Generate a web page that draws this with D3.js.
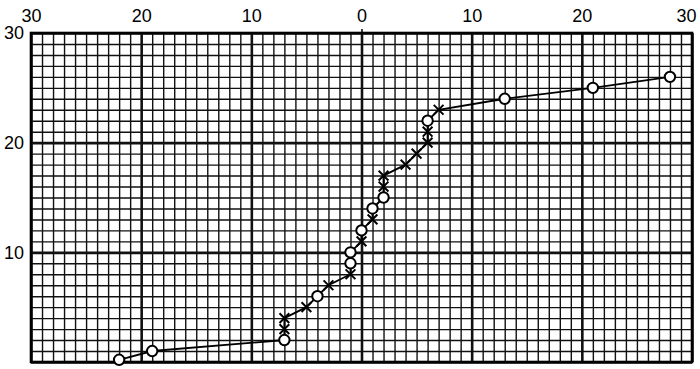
<!DOCTYPE html>
<html>
<head>
<meta charset="utf-8">
<script src="https://cdn.jsdelivr.net/npm/d3@7"></script>
<style>
  body { margin: 0; background: #fff; }
  text { font-family: "Liberation Sans Narrow", "Liberation Sans", sans-serif; }
</style>
</head>
<body>
<div id="canvas"></div>
<script>
// depth steps (y) and offsets (x)
let depth  = [0.2, 1, 2, 3, 4, 5, 6, 7, 8, 9, 10, 11, 12, 13, 14, 15, 16, 17, 18, 19, 20, 21, 22, 23, 24, 25, 26];
let offset = [-22, -19, -7, -7, -7, -5, -4, -3, -1, -1, -1, 0, 0, 1, 1, 2, 2, 2, 4, 5, 6, 6, 6, 7, 13, 21, 28];
let marker = ["o", "o", "o", "x", "x", "x", "o", "x", "x", "o", "o", "x", "o", "x", "o", "o", "x", "x", "x", "x", "x", "x", "o", "x", "o", "o", "o"];

let topTicks  = [-30, -20, -10, 0, 10, 20, 30];
let leftTicks = [10, 20, 30];

let data = depth.map((d, i) => ({y: d, x: offset[i], m: marker[i]}));

let W = 700, H = 369;
let mLeft = 31, mRight = 692, mTop = 33, mBottom = 362;

let svg = d3.select("#canvas")
            .append("svg")
              .attr("width", W)
              .attr("height", H);

let x = d3.scaleLinear().domain([-30, 30]).range([mLeft, mRight]);
let y = d3.scaleLinear().domain([0, 30]).range([mBottom, mTop]);

// graph paper - minor lines every unit, heavy lines every 10
let gx = svg.append("g")
    .attr("transform", `translate(0,${mBottom})`)
    .call(d3.axisBottom(x).tickValues(d3.range(-30, 31)).tickSize(-(mBottom - mTop)).tickFormat(""));
gx.select(".domain").remove();
gx.selectAll("line")
    .attr("stroke", "#111")
    .attr("stroke-width", d => d % 10 === 0 ? 2.6 : 1.4);

let gy = svg.append("g")
    .attr("transform", `translate(${mLeft},0)`)
    .call(d3.axisLeft(y).tickValues(d3.range(0, 31)).tickSize(-(mRight - mLeft)).tickFormat(""));
gy.select(".domain").remove();
gy.selectAll("line")
    .attr("stroke", "#111")
    .attr("stroke-width", d => d % 10 === 0 ? 2.6 : 1.4);

svg.append("rect")
    .attr("x", mLeft)
    .attr("y", mTop)
    .attr("width", mRight - mLeft)
    .attr("height", mBottom - mTop)
    .attr("fill", "none")
    .attr("stroke", "#000")
    .attr("stroke-width", 2.6);

// top labels
let at = svg.append("g")
    .attr("transform", `translate(0,${mTop})`)
    .call(d3.axisTop(x).tickValues(topTicks).tickSize(0).tickPadding(11).tickFormat(d => Math.abs(d)));
at.select(".domain").remove();
at.selectAll("text")
    .attr("font-size", 18)
    .attr("fill", "#000")
    .attr("font-family", "Liberation Sans Narrow, sans-serif");
at.selectAll(".tick").filter(d => d === 30).select("text").attr("dx", -6);
// small tick above the centre line
at.selectAll(".tick").filter(d => d === 0).append("line")
    .attr("y1", 0).attr("y2", -4)
    .attr("stroke", "#000").attr("stroke-width", 1.5);

// left labels
let al = svg.append("g")
    .attr("transform", `translate(${mLeft},0)`)
    .call(d3.axisLeft(y).tickValues(leftTicks).tickSize(0).tickPadding(7));
al.select(".domain").remove();
al.selectAll("text")
    .attr("font-size", 18)
    .attr("fill", "#000")
    .attr("font-family", "Liberation Sans Narrow, sans-serif");

// curve
svg.append("path")
    .datum(data)
    .attr("fill", "none")
    .attr("stroke", "#000")
    .attr("stroke-width", 1.9)
    .attr("d", d3.line().x(d => x(d.x)).y(d => y(d.y)));

svg.selectAll("circle.pt")
    .data(data.filter(d => d.m === "o"))
    .enter()
    .append("circle")
    .attr("class", "pt")
    .attr("cx", d => x(d.x))
    .attr("cy", d => y(d.y))
    .attr("r", 5.2)
    .attr("fill", "#fff")
    .attr("stroke", "#000")
    .attr("stroke-width", 2);

svg.selectAll("path.xm")
    .data(data.filter(d => d.m === "x"))
    .enter()
    .append("path")
    .attr("class", "xm")
    .attr("transform", d => `translate(${x(d.x)},${y(d.y)})`)
    .attr("d", d3.symbol(d3.symbolX, 64))
    .attr("fill", "none")
    .attr("stroke", "#000")
    .attr("stroke-width", 2);
</script>
</body>
</html>
